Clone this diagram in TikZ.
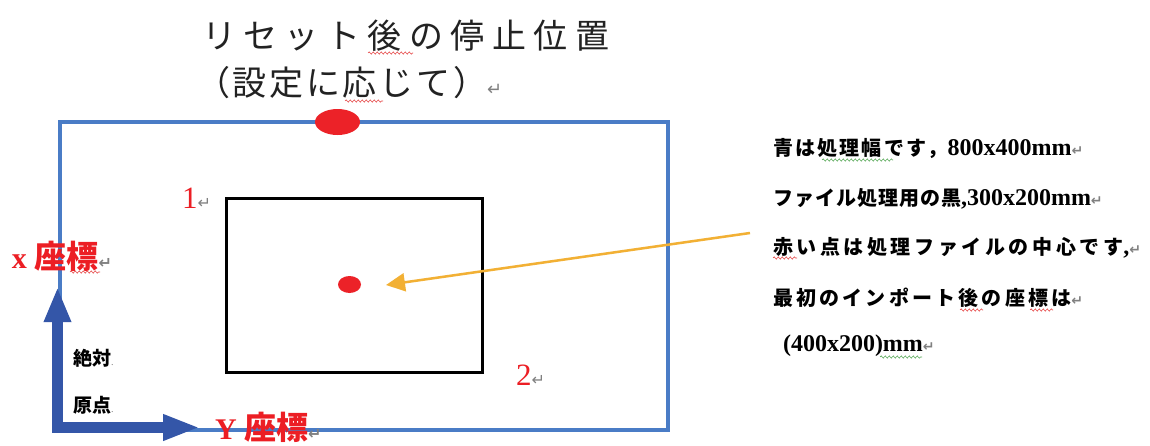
\documentclass[tikz,border=0pt]{standalone}
\usepackage{fontspec}
\setmainfont{Liberation Serif}
\newfontfamily\jp{Noto Sans CJK JP}
\newfontfamily\arrf{DejaVu Sans}
\usetikzlibrary{arrows.meta,decorations.pathmorphing,shapes.geometric}
\definecolor{boxblue}{RGB}{74,124,198}
\definecolor{axisblue}{RGB}{52,86,168}
\definecolor{dotred}{RGB}{236,34,40}
\definecolor{txtred}{RGB}{236,30,36}
\definecolor{pointer}{RGB}{242,176,52}
\definecolor{retgray}{RGB}{128,128,128}
\definecolor{titlegray}{RGB}{34,34,34}
\definecolor{waveRed}{RGB}{230,70,70}
\definecolor{waveGreen}{RGB}{90,170,90}
\newcommand\parmk[1][14]{{\arrf\fontsize{#1}{#1}\selectfont\color{retgray}↵}}
\newcommand\fsz[1]{\fontsize{#1}{#1}\selectfont}
\tikzset{
  txt/.style={anchor=base west, inner sep=0pt, outer sep=0pt},
  note/.style={txt, text=black, font=\bfseries},
  axislbl/.style={txt, text=txtred, font=\bfseries},
  wavyR/.style={draw=waveRed, line width=0.6pt, decorate, decoration={snake, amplitude=1.1pt, segment length=4pt}},
  wavyG/.style={draw=waveGreen, line width=0.6pt, decorate, decoration={snake, amplitude=1.1pt, segment length=4pt}},
  axis/.style={draw=axisblue, line width=11pt, line join=miter,
    {Triangle[length=35pt,width=25pt]}-{Triangle[length=37pt,width=24pt]}},
  pointerarrow/.style={draw=pointer, line width=2.5pt, -{Triangle[length=19pt,width=18pt]}},
}
\begin{document}
\begin{tikzpicture}[x=1pt,y=-1pt]
\useasboundingbox (0,0) rectangle (1150,445);
\fill[white] (0,0) rectangle (1150,445);

% working area (blue) and file box (black)
\node[draw=boxblue, line width=4pt, minimum width=608pt, minimum height=308pt, inner sep=0pt] (work) at (364,276) {};
\node[draw=black, line width=3pt, minimum width=256pt, minimum height=174pt, inner sep=0pt] (file) at (354,285) {};

% axes
\coordinate (O) at (57.5,427.5);
\coordinate (xtip) at (57.5,287);
\coordinate (ytip) at (200,427.5);
\draw[axis] (xtip) -- (O) -- (ytip);

% red dots
\node[ellipse, fill=dotred, minimum width=45pt, minimum height=26pt, inner sep=0pt] (stop) at (337.5,122) {};
\node[ellipse, fill=dotred, minimum width=23pt, minimum height=17pt, inner sep=0pt] (center) at (349.5,284.5) {};

% pointer arrow
\coordinate (pstart) at (750,233);
\coordinate (ptip) at (386,285);
\draw[pointerarrow] (pstart) -- (ptip);

% title
\node[txt, text=titlegray] (t1) at (202,48) {\jp\fsz{34}\addfontfeatures{LetterSpace=22}リセット後の停止位置};
\node[txt, text=titlegray] (t2) at (196,95) {{\jp\fsz{34}\addfontfeatures{LetterSpace=8}（設定に応じて）}\parmk[18]};
\draw[wavyR] (368,53) -- (413,53);
\draw[wavyR] (345,101) -- (383,101);

% corner numbers
\node[txt, text=txtred] (n1) at (182,208) {\fsz{31}1\parmk[16]};
\node[txt, text=txtred] (n2) at (516,385) {\fsz{31}2\parmk[16]};

% axis labels
\node[axislbl] (xl) at (12,268) {\fsz{30}x {\jp\fsz{32}座標}\parmk[16]};
\draw[wavyR] (70,272) -- (100,272);
\node[axislbl] (yl) at (215,439) {\fsz{30}Y {\jp\fsz{32}座標}\parmk[16]};
\node[txt, text=black] (abs) at (73,365) {{\jp\bfseries\fsz{19}絶対}{\color{retgray}\fsz{10}.}};
\node[txt, text=black] (org) at (73,412) {{\jp\bfseries\fsz{19}原点}{\color{retgray}\fsz{10}.}};

% notes
\node[note] (l1) at (773,155.5) {{\jp\fsz{20}\addfontfeatures{LetterSpace=11}青は処理幅です，}{\fsz{24}800x400mm}\parmk};
\draw[wavyG] (822,160) -- (893,160);
\node[note] (l2) at (773,205.5) {{\jp\fsz{20}\addfontfeatures{LetterSpace=5}ファイル処理用の黒}{\fsz{24},300x200mm}\parmk};
\node[note] (l3) at (773,254) {{\jp\fsz{20}\addfontfeatures{LetterSpace=18}赤い点は処理ファイルの中心です}{\fsz{24},}\parmk};
\draw[wavyR] (773,258) -- (797,258);
\node[note] (l4) at (773,305.5) {{\jp\fsz{20}\addfontfeatures{LetterSpace=16}最初のインポート後の座標は}\parmk};
\draw[wavyR] (960,310) -- (983,310);
\draw[wavyR] (1030,310) -- (1053,310);
\node[note] (l5) at (783,351) {{\fsz{24}(400x200)mm}\parmk};
\draw[wavyG] (880,357) -- (922,357);
\end{tikzpicture}
\end{document}
